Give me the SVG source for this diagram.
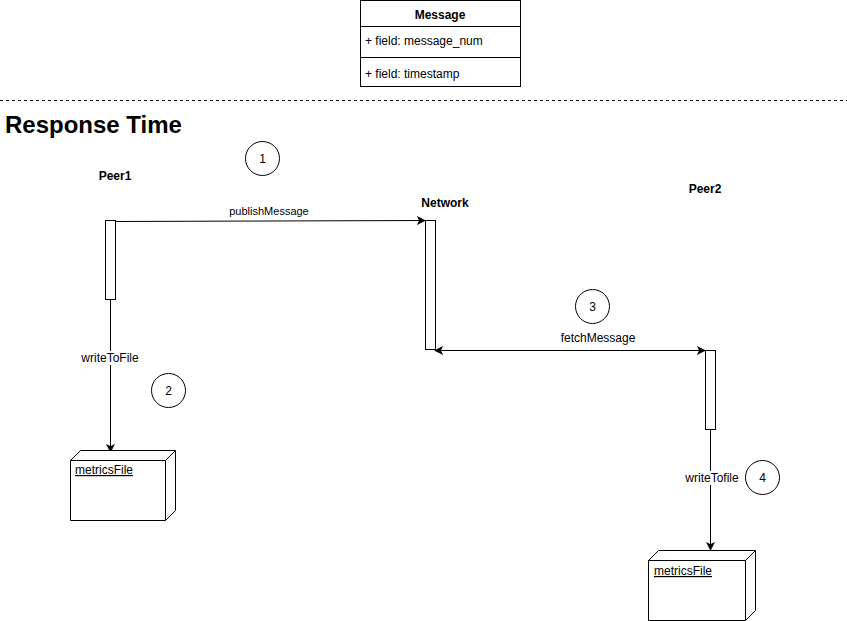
<svg xmlns="http://www.w3.org/2000/svg" width="847" height="621" viewBox="0 0 847 621">
<style>
text{font-family:"Liberation Sans",Arial,sans-serif;fill:#000}
.b{font-weight:bold;font-size:12px}
.t{font-size:12px}
.s{font-size:11px}
.ln{stroke:#000;stroke-width:1;fill:none}
.bx{stroke:#000;stroke-width:1;fill:#fff}
</style>
<defs>
<marker id="ah" viewBox="0 0 10 10" refX="9" refY="5" markerWidth="9" markerHeight="9" markerUnits="userSpaceOnUse" orient="auto-start-reverse">
<path d="M0,0 L10,5 L0,10 L2.5,5 Z" fill="#000"/>
</marker>
</defs>
<rect width="847" height="621" fill="#fff"/>
<g id="message">
<rect class="bx" x="360.5" y="0.5" width="160" height="86"/>
<line class="ln" x1="360.5" y1="26.5" x2="520.5" y2="26.5"/>
<line class="ln" x1="360.5" y1="57.5" x2="520.5" y2="57.5"/>
<text class="b" x="440" y="19" text-anchor="middle">Message</text>
<text class="t" x="365" y="45">+ field: message_num</text>
<text class="t" x="365" y="78">+ field: timestamp</text>
</g>
<line id="separator" x1="0" y1="100.5" x2="847" y2="100.5" stroke="#000" stroke-dasharray="3,3"/>
<text id="title" x="5" y="133" style="font-size:24px;font-weight:bold">Response Time</text>
<g id="connectors">
<line class="ln" x1="115" y1="221.5" x2="425" y2="220.5" marker-end="url(#ah)"/>
<text class="s" x="269" y="215" text-anchor="middle">publishMessage</text>
<line class="ln" x1="435" y1="350.5" x2="705" y2="350.5" marker-start="url(#ah)" marker-end="url(#ah)"/>
<rect x="555" y="330" width="86" height="14" fill="#fff"/>
<text class="t" x="598" y="342" text-anchor="middle">fetchMessage</text>
<line class="ln" x1="110.5" y1="300" x2="110.5" y2="452" marker-end="url(#ah)"/>
<rect x="78" y="351" width="64" height="14" fill="#fff"/>
<text class="t" x="110" y="362" text-anchor="middle">writeToFile</text>
<line class="ln" x1="710.5" y1="430" x2="710.5" y2="550" marker-end="url(#ah)"/>
<rect x="682" y="471" width="60" height="14" fill="#fff"/>
<text class="t" x="712" y="482" text-anchor="middle">writeTofile</text>
</g>
<g id="peer1">
<text class="b" x="115" y="180" text-anchor="middle">Peer1</text>
<rect class="bx" x="105.5" y="220.5" width="10" height="79"/>
</g>
<g id="network">
<text class="b" x="445" y="207" text-anchor="middle">Network</text>
<rect class="bx" x="425.5" y="220.5" width="10" height="129"/>
</g>
<g id="peer2">
<text class="b" x="705" y="193" text-anchor="middle">Peer2</text>
<rect class="bx" x="705.5" y="350.5" width="10" height="79"/>
</g>
<g id="step1"><circle class="bx" cx="262.5" cy="158.5" r="17"/><text class="t" x="262.5" y="163" text-anchor="middle">1</text></g>
<g id="step2"><circle class="bx" cx="168.5" cy="390.5" r="17"/><text class="t" x="168.5" y="395" text-anchor="middle">2</text></g>
<g id="step3"><circle class="bx" cx="592.5" cy="306.5" r="17"/><text class="t" x="592.5" y="311" text-anchor="middle">3</text></g>
<g id="step4"><circle class="bx" cx="762.5" cy="477.5" r="17"/><text class="t" x="762.5" y="482" text-anchor="middle">4</text></g>
<g id="metricsFile1">
<path class="bx" d="M70.5,460.5 L80.5,450.5 L175.5,450.5 L175.5,510.5 L165.5,520.5 L70.5,520.5 Z"/>
<path class="ln" d="M70.5,460.5 L165.5,460.5 L175.5,450.5 M165.5,460.5 L165.5,520.5"/>
<text class="t" x="75" y="474" text-decoration="underline">metricsFile</text>
</g>
<g id="metricsFile2">
<path class="bx" d="M648.5,560.5 L658.5,550.5 L755.5,550.5 L755.5,610.5 L745.5,620.5 L648.5,620.5 Z"/>
<path class="ln" d="M648.5,560.5 L745.5,560.5 L755.5,550.5 M745.5,560.5 L745.5,620.5"/>
<text class="t" x="654" y="575" text-decoration="underline">metricsFile</text>
</g>
</svg>
